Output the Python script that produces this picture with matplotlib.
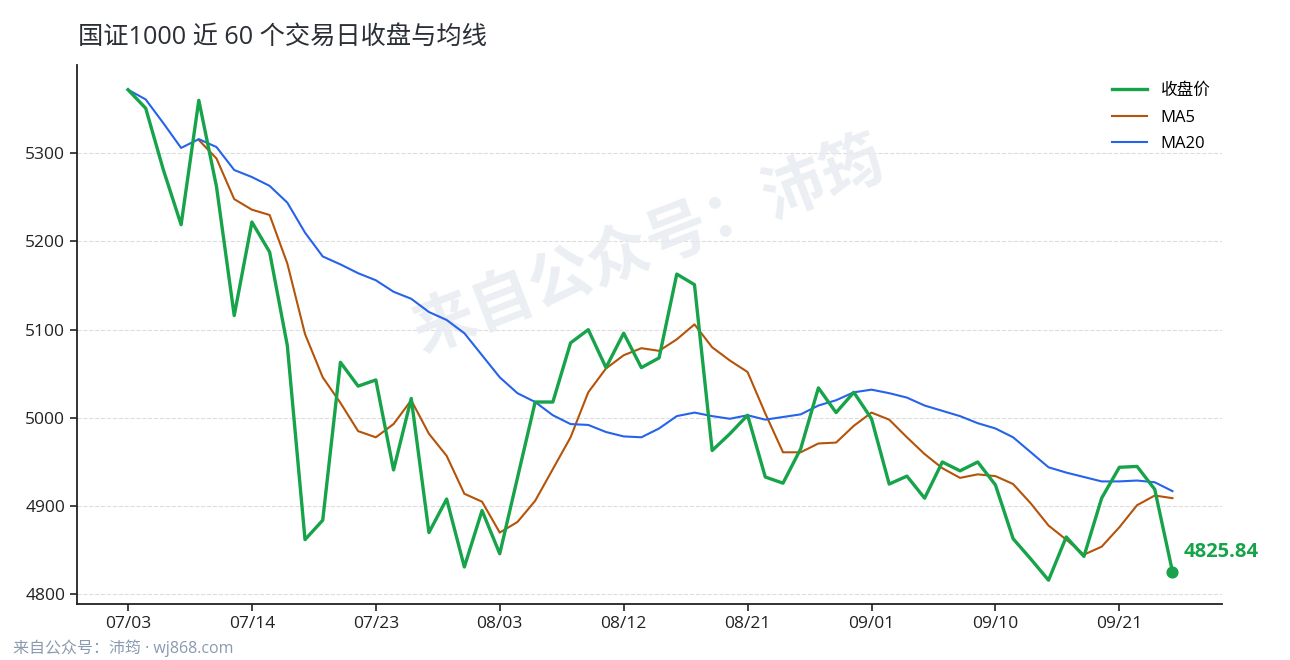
import matplotlib
matplotlib.use("Agg")
import matplotlib.pyplot as plt
import numpy as np

plt.rcParams['font.family'] = ['Open Sans', 'Noto Sans CJK SC', 'DejaVu Sans']

# closing prices of the last 60 trading days
close = [5372, 5351, 5281, 5219, 5360, 5262, 5116, 5222, 5188, 5082,
         4862, 4884, 5063, 5036, 5043, 4941, 5022, 4870, 4908, 4831,
         4895, 4846, 4932, 5018, 5018, 5085, 5100, 5057, 5096, 5057,
         5068, 5163, 5151, 4963, 4982, 5003, 4933, 4926, 4965, 5034,
         5006, 5029, 4999, 4925, 4934, 4909, 4950, 4940, 4950, 4924,
         4863, 4840, 4816, 4865, 4843, 4909, 4944, 4945, 4919, 4825.84]

# MA5 (starts on the 5th day)
ma5 = [None, None, None, None, 5315, 5294, 5248, 5236, 5230, 5175,
       5095, 5046, 5017, 4985, 4978, 4993, 5020, 4982, 4957, 4914,
       4905, 4870, 4882, 4906, 4942, 4978, 5029, 5056, 5071, 5079,
       5076, 5089, 5106, 5080, 5065, 5052, 5005, 4961, 4961, 4971,
       4972, 4991, 5006, 4998, 4978, 4959, 4943, 4932, 4936, 4934,
       4925, 4903, 4878, 4862, 4845, 4854, 4876, 4901, 4912, 4909]

ma20 = [5372, 5361, 5334, 5306, 5316, 5307, 5281, 5273, 5263, 5244,
        5210, 5183, 5174, 5164, 5156, 5143, 5135, 5120, 5111, 5096,
        5071, 5046, 5028, 5018, 5003, 4993, 4992, 4984, 4979, 4978,
        4988, 5002, 5006, 5002, 4999, 5003, 4998, 5001, 5004, 5014,
        5020, 5029, 5032, 5028, 5023, 5014, 5008, 5002, 4994, 4988,
        4978, 4961, 4944, 4938, 4933, 4928, 4928, 4929, 4927, 4917]

tick_labels = ["07/03", "07/14", "07/23", "08/03", "08/12",
               "08/21", "09/01", "09/10", "09/21"]
y_ticks = [4800, 4900, 5000, 5100, 5200, 5300]

green = "#16a34a"
orange = "#b45309"
blue = "#2563eb"

x = np.arange(len(close))
ma5_arr = np.array([np.nan if v is None else v for v in ma5], dtype=float)

fig = plt.figure(figsize=(12.9, 6.6), dpi=100)
ax = fig.add_axes([0.0597, 0.0848, 0.8876, 0.8167])

ax.plot(x, close, color=green, linewidth=2.4, label="收盘价", zorder=4)
ax.plot(x, ma5_arr, color=orange, linewidth=1.5, label="MA5", zorder=3)
ax.plot(x, ma20, color=blue, linewidth=1.5, label="MA20", zorder=3)

# last point and its value
ax.scatter([x[-1]], [close[-1]], s=60, color=green, zorder=5)
ax.annotate(f"{close[-1]:.2f}", xy=(x[-1], close[-1]), xytext=(8, 14),
            textcoords="offset points", color=green, fontsize=14.5,
            fontweight="bold", va="center", ha="left")

ax.set_xlim(-2.88, 61.8)
ax.set_ylim(4789, 5400)
ax.set_xticks(x[::7])
ax.set_xticklabels(tick_labels)
ax.set_yticks(y_ticks)
ax.tick_params(axis="both", labelsize=12.5, colors="#222222", length=5, width=1.2)
ax.grid(axis="y", linestyle="--", color="#dddddd", linewidth=0.8)
ax.set_axisbelow(True)
for s in ["top", "right"]:
    ax.spines[s].set_visible(False)
for s in ["left", "bottom"]:
    ax.spines[s].set_color("#222222")
    ax.spines[s].set_linewidth(1.3)

leg = ax.legend(loc="upper right", bbox_to_anchor=(1.003, 0.994), frameon=False,
                fontsize=12, handlelength=2.1, handletextpad=0.8,
                labelspacing=0.62)

# watermark
ax.text(0.5, 0.66, "来自公众号：沛筠", transform=ax.transAxes, rotation=21,
        fontsize=45, fontweight="bold", color="#e8ebf1", alpha=0.85,
        ha="center", va="center", zorder=1)

fig.text(0.0605, 0.944, "国证1000 近 60 个交易日收盘与均线", fontsize=18.2,
         color="#2b2f36", va="center", ha="left")
fig.text(0.01, 0.018, "来自公众号：沛筠 · wj868.com", fontsize=11.5,
         color="#8c9ab0", va="center", ha="left")

plt.savefig("out.png", dpi=100)
plt.close()
